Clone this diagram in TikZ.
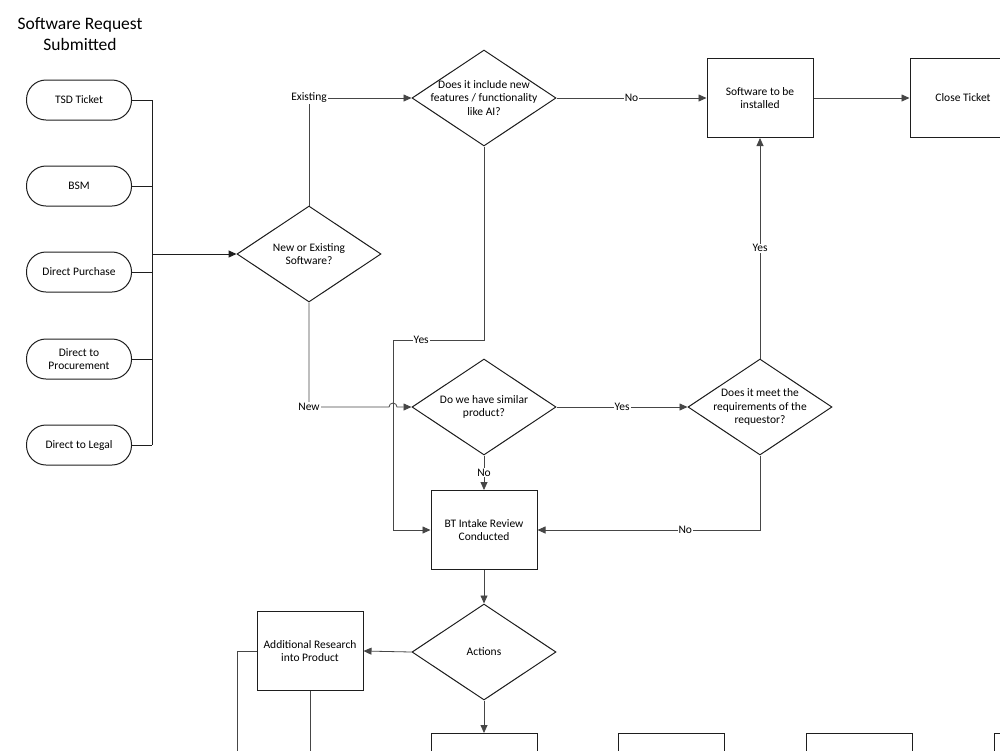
\documentclass[tikz,border=0pt]{standalone}
\usepackage{fontspec}
\setmainfont{Carlito}
\usepackage{tikz}
\usetikzlibrary{shapes.geometric, arrows.meta, positioning, calc}
\definecolor{mydark}{RGB}{30,30,30}
\definecolor{mygray}{RGB}{70,70,70}
\tikzset{
  pill/.style={rectangle, draw=mydark, rounded corners=19.5pt, minimum width=105pt, minimum height=40pt, align=center, font=\fontsize{11.5}{13.5}\selectfont, line width=1pt, inner sep=0pt},
  block/.style={rectangle, draw=mydark, minimum width=106pt, minimum height=79pt, align=center, font=\fontsize{11.5}{13.5}\selectfont, line width=1pt, inner sep=0pt},
  decision/.style={diamond, draw=mydark, aspect=1.5, minimum width=144pt, minimum height=96pt, align=center, font=\fontsize{11.5}{13.5}\selectfont, line width=1pt, inner sep=-8pt},
  arrow/.style={-{Triangle[length=8pt, width=7pt]}, line width=0.8pt, color=mygray},
  line/.style={line width=0.8pt, color=mygray},
  bus/.style={line width=1pt, color=mydark},
  lbl/.style={fill=white, text=black, inner sep=1pt, font=\fontsize{11.5}{13.5}\selectfont}
}

\begin{document}
\begin{tikzpicture}[x=1pt, y=-1pt]
  \useasboundingbox (0,0) rectangle (1000,750);
  \clip (0,0) rectangle (1000,750);

  % Title
  \node[align=center, font=\fontsize{17.5}{21}\selectfont] (title) at (80,34) {Software Request\\Submitted};

  % Sources
  \node[pill] (tsd) at (79,100) {TSD Ticket};
  \node[pill] (bsm) at (79,186) {BSM};
  \node[pill] (dpur) at (79,272) {Direct Purchase};
  \node[pill] (dproc) at (79,359) {Direct to\\Procurement};
  \node[pill] (dlegal) at (79,445) {Direct to Legal};

  % Decisions
  \node[decision] (newex) at (309,254) {New or Existing\\Software?};
  \node[decision] (feat) at (484,98) {Does it include new\\features / functionality\\like AI?};
  \node[decision] (similar) at (484,407) {Do we have similar\\product?};
  \node[decision] (meets) at (760,407) {Does it meet the\\requirements of the\\requestor?};
  \node[decision] (actions) at (484,652) {Actions};

  % Process boxes
  \node[block] (install) at (760,98) {Software to be\\installed};
  \node[block] (close) at (963,98) {Close Ticket};
  \node[block] (intake) at (484,530) {BT Intake Review\\Conducted};
  \node[block] (research) at (310,651) {Additional Research\\into Product};
  \node[block] (next1) at (484,773) {};
  \node[block] (next2) at (671,773) {};
  \node[block] (next3) at (859,773) {};
  \node[block] (next4) at (1047,773) {};

  % Bus from sources
  \coordinate (busx) at (152,0);
  \foreach \src in {tsd, bsm, dpur, dproc, dlegal}
    \draw[bus] (\src.east) -- (\src.east -| busx);
  \draw[bus] (tsd.east -| busx) -- (dlegal.east -| busx);
  \draw[bus, -{Triangle[length=8pt, width=7pt]}] (newex.west -| busx) -- (newex.west);

  % Existing / New
  \draw[arrow] (newex.north) |- node[lbl, pos=0.5] {Existing} (feat.west);
  \coordinate (hop) at (389,407);
  \draw[arrow] (newex.south) |- node[lbl, pos=0.5] {New} (hop) arc (180:360:4) -- (similar.west);

  % Feature check
  \draw[arrow] (feat.east) -- node[lbl] {No} (install.west);
  \draw[arrow] (install.east) -- (close.west);
  \coordinate (yesturn) at (393,340);
  \draw[arrow] (feat.south) |- node[lbl, pos=0.845] {Yes} (yesturn) |- (intake.west);

  % Similar product
  \draw[arrow] (similar.east) -- node[lbl] {Yes} (meets.west);
  \draw[arrow] (similar.south) -- node[lbl] {No} (intake.north);
  \draw[arrow] (meets.north) -- node[lbl] {Yes} (install.south);
  \draw[arrow] (meets.south) |- node[lbl, pos=0.668] {No} (intake.east);

  % Actions
  \draw[arrow] (intake.south) -- (actions.north);
  \draw[arrow] (actions.west) -- (research.east);
  \draw[arrow] (actions.south) -- (next1.north);
  \coordinate (resout) at (237,760);
  \draw[line] (research.west) -| (resout);
  \draw[line] (research.south) -- (research.south |- resout);
\end{tikzpicture}
\end{document}
